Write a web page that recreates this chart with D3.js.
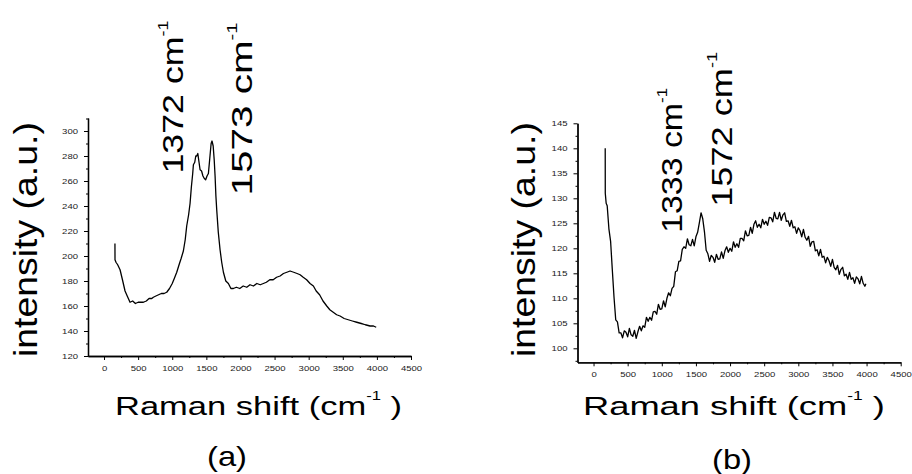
<!DOCTYPE html>
<html>
<head>
<meta charset="utf-8">
<script src="https://cdnjs.cloudflare.com/ajax/libs/d3/7.8.5/d3.min.js"></script>
<style>
  body { margin: 0; background: #fff; }
  text { font-family: "Liberation Sans", Arial, sans-serif; }
</style>
</head>
<body>
<svg id="chart" width="912" height="474"></svg>
<script>
// spectrum (a)
var shiftA = [160,161,175,200,235,270,308,340,381,420,460,500,540,577,620,660,700,723,760,800,
  840,880,919,960,1000,1030,1066,1100,1130,1163,1190,1212,1240,1261,1280,1300,1310,1330,1345,1359,
  1375,1390,1408,1430,1450,1470,1490,1510,1530,1550,1570,1583,1600,1615,1628,1640,1652,1675,1701,1725,
  1750,1785,1823,1860,1896,1940,1990,2040,2092,2140,2190,2240,2290,2336,2380,2430,2480,2530,2581,2630,
  2680,2727,2780,2830,2874,2920,2970,3020,3069,3110,3160,3210,3265,3310,3360,3410,3460,3520,3580,3640,
  3705,3770,3830,3900,3950,3990];
var intensityA = [210,197,195,193,189,181,172,168,163,164,162,163,163,163,164,166,166,167,168,169,
  170,170,171,174,178,182,187,193,198,204,213,224,233,242,255,266,273,275,280,280,
  282,276,269,268,264,262,261,264,266,278,290,292,288,277,264,248,237,219,205,195,
  187,180,178,174,174,175,174,176,175,177,176,178,177,178,179,181,181,183,184,186,
  187,188,187,186,185,183,181,178,176,172,169,164,160,157,155,153,152,150,149,148,
  147,146,145,144,144,143];

// spectrum (b)
var shiftB = [171,172,185,
  200,225,250,275,300,325,350,375,
  400,425,450,475,500,525,550,575,
  600,625,650,675,700,725,750,775,
  800,825,850,875,900,925,950,975,
  1000,1025,1050,1075,1100,1125,1150,1175,
  1200,1225,1250,1275,1300,1325,1350,1375,
  1400,1425,1450,1475,1500,1525,1550,1575,
  1600,1625,1650,1675,1700,1725,1750,1775,
  1800,1825,1850,1875,1900,1925,1950,1975,
  2000,2025,2050,2075,2100,2125,2150,2175,
  2200,2225,2250,2275,2300,2325,2350,2375,
  2400,2425,2450,2475,2500,2525,2550,2575,
  2600,2625,2650,2675,2700,2725,2750,2775,
  2800,2825,2850,2875,2900,2925,2950,2975,
  3000,3025,3050,3075,3100,3125,3150,3175,
  3200,3225,3250,3275,3300,3325,3350,3375,
  3400,3425,3450,3475,3500,3525,3550,3575,
  3600,3625,3650,3675,3700,3725,3750,3775,
  3800,3825,3850,3875,3900,3925,3950,3975,
  3990];
var intensityB = [140,131,129,
  128.5,123.9,121.4,115.7,110.2,105.7,105.3,103.1,
  103.1,102.1,103.5,103.2,102.3,104.0,102.7,102.4,
  103.6,102.0,103.3,104.4,103.5,104.5,104.2,106.2,
  105.4,106.2,105.6,107.3,107.4,106.8,108.8,107.8,
  107.9,109.5,108.3,110.0,111.1,110.5,112.0,112.4,
  115.3,115.5,117.4,117.5,119.8,120.3,120.0,121.9,
  120.7,120.5,121.8,120.5,122.3,123.2,125.1,127.1,
  125.9,123.3,119.6,118.9,117.4,118.6,118.2,117.2,
  118.8,117.8,117.9,119.3,118.0,119.5,120.3,119.2,
  120.0,119.4,121.3,120.2,120.9,120.2,122.0,122.0,
  121.5,123.5,122.5,122.6,124.2,123.0,124.8,125.5,
  124.2,124.8,124.1,125.8,124.8,125.4,124.6,126.2,
  126.1,125.3,127.2,126.0,125.9,127.2,125.6,126.7,
  127.1,125.4,125.5,124.4,125.6,124.1,124.3,123.0,
  124.1,123.5,122.3,123.8,122.2,121.6,122.4,120.4,
  121.3,121.4,119.5,119.7,118.5,119.8,118.2,118.4,
  117.1,118.2,117.5,116.4,117.8,116.2,115.7,116.6,
  114.8,115.8,116.2,114.5,114.8,113.8,115.2,113.8,
  114.1,113.0,114.3,113.9,112.9,114.4,113.0,112.4,
  112.9];

// axis ticks
var xTicks = [0,500,1000,1500,2000,2500,3000,3500,4000,4500];
var xMinor = [250,750,1250,1750,2250,2750,3250,3750,4250];
var yTicksA = [120,140,160,180,200,220,240,260,280,300];
var yMinorA = [130,150,170,190,210,230,250,270,290,310];
var yTicksB = [100,105,110,115,120,125,130,135,140,145];
var yMinorB = [97.5,102.5,107.5,112.5,117.5,122.5,127.5,132.5,137.5,142.5];

// peak labels
var peaksA = ["1372", "1573"];
var peaksB = ["1333", "1572"];

var svg = d3.select("#chart");
svg.append("rect").attr("width", 912).attr("height", 474).attr("fill", "#fff");

// stretch a text along its own direction to a wanted length
function fitText(t, len) {
  var w = t.node().getBBox().width;
  t.attr("transform", "scale(" + (len / w) + ",1)");
}

function styleAxis(ax) {
  ax.select(".domain").attr("stroke", "#000").attr("stroke-width", 1.3);
  ax.selectAll(".tick line").attr("stroke", "#000").attr("stroke-width", 1);
  ax.selectAll(".tick text")
    .attr("font-size", 7.5)
    .attr("fill", "#222")
    .attr("font-family", "Liberation Sans, Arial, sans-serif")
    .attr("textLength", function(d) { return String(d).length * 5.3; })
    .attr("lengthAdjust", "spacingAndGlyphs");
}

function drawPanel(p) {
  var g = svg.append("g");
  var x = d3.scaleLinear().domain([-235, 4500]).range([p.left, p.right]);
  var y = d3.scaleLinear().domain(p.yDomain).range([p.bottom, p.top]);
  var fmt = d3.format("d");

  // minor ticks first
  var xm = g.append("g").attr("transform", "translate(0," + p.bottom + ")")
    .call(d3.axisBottom(x).tickValues(xMinor).tickSize(2).tickSizeOuter(0).tickFormat(""));
  var ym = g.append("g").attr("transform", "translate(" + p.left + ",0)")
    .call(d3.axisLeft(y).tickValues(p.yMinor).tickSize(2).tickSizeOuter(0).tickFormat(""));
  styleAxis(xm); styleAxis(ym);

  var xa = g.append("g").attr("transform", "translate(0," + p.bottom + ")")
    .call(d3.axisBottom(x).tickValues(xTicks).tickFormat(fmt).tickSize(4).tickPadding(5.5).tickSizeOuter(0));
  var ya = g.append("g").attr("transform", "translate(" + p.left + ",0)")
    .call(d3.axisLeft(y).tickValues(p.yTicks).tickFormat(fmt).tickSize(4).tickPadding(6).tickSizeOuter(0));
  styleAxis(xa); styleAxis(ya);

  var line = d3.line()
    .x(function(d) { return x(d[0]); })
    .y(function(d) { return y(d[1]); });

  g.append("path")
    .datum(d3.zip(p.shift, p.intensity))
    .attr("d", line)
    .attr("fill", "none")
    .attr("stroke", "#000")
    .attr("stroke-width", p.lineWidth)
    .attr("stroke-linejoin", "round");

  // rotated peak labels
  p.peaks.forEach(function(lab, i) {
    var a = p.peakPos[i];
    var ag = g.append("g")
      .attr("transform", "translate(" + x(a[0]) + "," + y(a[1]) + ") rotate(-90)");
    var t = ag.append("text").attr("font-size", 30).attr("fill", "#000");
    t.append("tspan").text(lab + " cm");
    t.append("tspan").attr("font-size", 15).attr("dy", -15).text("-1");
    fitText(t, a[2]);
  });

  // y title
  var yt = g.append("g")
    .attr("transform", "translate(" + p.yTitleX + ",357) rotate(-90)")
    .append("text").attr("font-size", 33).attr("fill", "#000")
    .text("intensity (a.u.)");
  fitText(yt, 235);

  // x title
  var xt = g.append("g")
    .attr("transform", "translate(" + p.xTitleX + ",415)")
    .append("text").attr("font-size", 25).attr("fill", "#000");
  xt.append("tspan").text("Raman shift (cm");
  xt.append("tspan").attr("font-size", 12).attr("dy", -15).text("-1");
  xt.append("tspan").attr("dy", 15).text(" )");
  fitText(xt, p.xTitleLen);

  // panel letter
  var pl = g.append("g")
    .attr("transform", "translate(" + p.letterX + "," + p.letterY + ")")
    .append("text").attr("font-size", 28).attr("fill", "#000")
    .text(p.letter);
  fitText(pl, 40);
}

drawPanel({
  left: 88, right: 411, top: 118, bottom: 356,
  yDomain: [120, 310.4], yTicks: yTicksA, yMinor: yMinorA,
  shift: shiftA, intensity: intensityA, lineWidth: 1.3,
  peaks: peaksA, peakPos: [[1158, 266, 153], [2170, 248.5, 173]],
  yTitleX: 37, xTitleX: 115, xTitleLen: 287,
  letter: "(a)", letterX: 207, letterY: 466
});

drawPanel({
  left: 577.5, right: 900.7, top: 123.3, bottom: 362.3,
  yDomain: [97.2, 145], yTicks: yTicksB, yMinor: yMinorB,
  shift: shiftB, intensity: intensityB, lineWidth: 1.3,
  peaks: peaksB, peakPos: [[1297, 123.1, 145], [2029, 128.3, 155]],
  yTitleX: 535, xTitleX: 583, xTitleLen: 302,
  letter: "(b)", letterX: 712, letterY: 469
});
</script>
</body>
</html>
